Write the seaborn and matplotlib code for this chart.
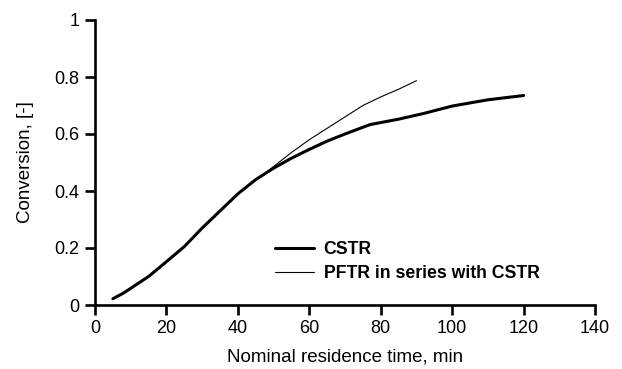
import matplotlib
matplotlib.use("Agg")
import matplotlib.pyplot as plt
import seaborn as sns
import pandas as pd

# Data
cstr_time = [5, 8, 15, 20, 25, 30, 35, 40, 45, 50, 55, 60, 65, 70, 77, 85, 92, 100, 110, 120]
cstr_conv = [0.022, 0.042, 0.10, 0.152, 0.205, 0.27, 0.33, 0.39, 0.44, 0.48, 0.515, 0.546, 0.575, 0.60, 0.633, 0.652, 0.672, 0.698, 0.72, 0.735]
pftr_time = [48, 55, 60, 65, 70, 75, 80, 85, 90]
pftr_conv = [0.466, 0.535, 0.58, 0.62, 0.66, 0.70, 0.73, 0.757, 0.787]

x_ticks = [0, 20, 40, 60, 80, 100, 120, 140]
y_ticks = [0, 0.2, 0.4, 0.6, 0.8, 1.0]
y_tick_labels = ["0", "0.2", "0.4", "0.6", "0.8", "1"]

sns.set_theme(style="ticks")
plt.rcParams['font.family'] = ['Liberation Sans', 'DejaVu Sans']
plt.rcParams['text.color'] = 'black'
plt.rcParams['axes.labelcolor'] = 'black'

fig = plt.figure(figsize=(6.22, 3.69), dpi=100)
ax = fig.add_axes([95/622, 1 - 305/369, 500/622, 285/369])

df_c = pd.DataFrame({"t": cstr_time, "x": cstr_conv})
df_p = pd.DataFrame({"t": pftr_time, "x": pftr_conv})
sns.lineplot(data=df_c, x="t", y="x", ax=ax, color="black", linewidth=2.2, label="CSTR")
sns.lineplot(data=df_p, x="t", y="x", ax=ax, color="black", linewidth=0.8, label="PFTR in series with CSTR")

ax.set_xlim(0, 140)
ax.set_ylim(0, 1)
ax.set_xticks(x_ticks)
ax.set_xticklabels([str(v) for v in x_ticks], fontsize=13)
ax.set_yticks(y_ticks)
ax.set_yticklabels(y_tick_labels, fontsize=13)
ax.set_xlabel("Nominal residence time, min", fontsize=13.5, labelpad=8)
ax.set_ylabel("Conversion, [-]", fontsize=13.5, labelpad=15)
for s in ["top", "right"]:
    ax.spines[s].set_visible(False)
for s in ["left", "bottom"]:
    ax.spines[s].set_linewidth(1.9)
    ax.spines[s].set_color("black")
ax.tick_params(axis="both", direction="out", length=7, width=1.9, colors="black", labelcolor="black", pad=4)
ax.set_facecolor("white")

leg = ax.legend(loc="upper left", bbox_to_anchor=(0.36, 0.225), frameon=False,
                borderpad=0, borderaxespad=0, handlelength=2.2, handletextpad=0.55,
                labelspacing=0.4, prop={"weight": "bold", "size": 12.7})

fig.savefig("out.png", dpi=100, facecolor="white")
